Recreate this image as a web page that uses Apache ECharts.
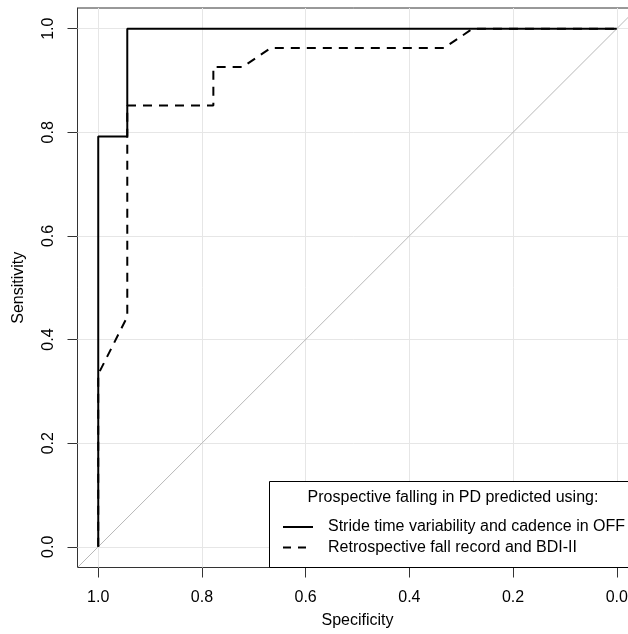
<!DOCTYPE html>
<html>
<head>
<meta charset="utf-8">
<script src="https://cdn.jsdelivr.net/npm/echarts@6/dist/echarts.min.js"></script>
<style>
html,body{margin:0;padding:0;background:#fff;}
#chart{width:628px;height:634px;}
</style>
</head>
<body>
<div id="chart"></div>
<script>
// Data
const tickValues = [0, 0.2, 0.4, 0.6, 0.8, 1.0];
const solidName = 'Stride time variability and cadence in OFF';
const solidSpec = [1, 1, 0.944, 0.944, 0];
const solidSens = [0, 0.792, 0.792, 1, 1];
const dashName = 'Retrospective fall record and BDI-II';
const dashSpec = [1, 1, 0.944, 0.944, 0.778, 0.778, 0.722, 0.667, 0.333, 0.278, 0];
const dashSens = [0, 0.333, 0.444, 0.852, 0.852, 0.926, 0.926, 0.963, 0.963, 1, 1];
const diagSpec = [1.04, -0.04];
const diagSens = [-0.04, 1.04];
const legendTitle = 'Prospective falling in PD predicted using:';

const FONT = "'Liberation Sans', Arial, Helvetica, sans-serif";
const FS = 16;
const zip = (a, b) => a.map((v, i) => [v, b[i]]);

const chart = echarts.init(document.getElementById('chart'), null, {renderer: 'canvas'});

const gridLeft = 77.5, gridTop = 8, gridW = 560, gridH = 559.5;
const LZ = 100;

const option = {
  animation: false,
  backgroundColor: '#fff',
  textStyle: {fontFamily: FONT},
  grid: {
    left: gridLeft, top: gridTop, width: gridW, height: gridH,
    outerBoundsMode: 'none', containLabel: false,
    show: true, borderColor: '#333', borderWidth: 1, backgroundColor: 'transparent'
  },
  xAxis: {
    type: 'value', min: -0.04, max: 1.04, inverse: true,
    name: 'Specificity', nameLocation: 'middle', nameGap: 45,
    nameTextStyle: {fontSize: FS, color: '#000', fontFamily: FONT},
    axisLine: {show: true, onZero: false, lineStyle: {color: '#333', width: 1}},
    axisTick: {show: true, inside: false, length: 10, customValues: tickValues, lineStyle: {color: '#333'}},
    axisLabel: {show: true, customValues: tickValues, margin: 22, fontSize: FS, color: '#000', fontFamily: FONT,
      formatter: v => v.toFixed(1)},
    splitLine: {show: false}
  },
  yAxis: {
    type: 'value', min: -0.04, max: 1.04,
    name: 'Sensitivity', nameLocation: 'middle', nameGap: 50.5,
    nameTextStyle: {fontSize: FS, color: '#000', fontFamily: FONT},
    axisLine: {show: true, onZero: false, lineStyle: {color: '#333', width: 1}},
    axisTick: {show: true, inside: false, length: 10, customValues: tickValues, lineStyle: {color: '#333'}},
    axisLabel: {show: true, customValues: tickValues, rotate: 90, margin: 21, fontSize: FS, color: '#000', fontFamily: FONT,
      formatter: v => v.toFixed(1)},
    splitLine: {show: false}
  },
  series: [
    {
      type: 'line', name: 'grid', data: [], silent: true, z: 1,
      markLine: {
        silent: true, symbol: ['none', 'none'], label: {show: false}, z: 1,
        lineStyle: {color: '#e6e6e6', width: 1, type: 'solid'},
        data: tickValues.map(v => ({xAxis: v})).concat(tickValues.map(v => ({yAxis: v})))
      }
    },
    {
      type: 'line', name: 'diag', data: zip(diagSpec, diagSens), showSymbol: false, symbol: 'none',
      lineStyle: {color: '#b8b8b8', width: 1}, silent: true, z: 2, clip: true
    },
    {
      type: 'line', name: dashName, data: zip(dashSpec, dashSens), showSymbol: false, symbol: 'none',
      lineStyle: {color: '#000', width: 2, type: [9, 7], cap: 'butt'}, z: 3, clip: true
    },
    {
      type: 'line', name: solidName, data: zip(solidSpec, solidSens), showSymbol: false, symbol: 'none',
      lineStyle: {color: '#000', width: 2}, z: 4, clip: true
    }
  ],
  graphic: {
    elements: [
      {type: 'rect', z: LZ, shape: {x: 269.5, y: 481.5, width: 400, height: 86}, style: {fill: '#fff', stroke: '#000', lineWidth: 1}},
      {type: 'text', z: LZ + 1, x: 453, y: 498, style: {text: legendTitle, fontSize: FS, fontFamily: FONT, fill: '#000', align: 'center', verticalAlign: 'middle'}},
      {type: 'line', z: LZ + 1, shape: {x1: 283, y1: 527, x2: 313, y2: 527}, style: {stroke: '#000', lineWidth: 2}},
      {type: 'text', z: LZ + 1, x: 328, y: 527, style: {text: solidName, fontSize: FS, fontFamily: FONT, fill: '#000', align: 'left', verticalAlign: 'middle'}},
      {type: 'line', z: LZ + 1, shape: {x1: 283, y1: 547.5, x2: 313, y2: 547.5}, style: {stroke: '#000', lineWidth: 2, lineDash: [8, 7]}},
      {type: 'text', z: LZ + 1, x: 328, y: 547.5, style: {text: dashName, fontSize: FS, fontFamily: FONT, fill: '#000', align: 'left', verticalAlign: 'middle'}}
    ]
  }
};
chart.setOption(option);
</script>
</body>
</html>
